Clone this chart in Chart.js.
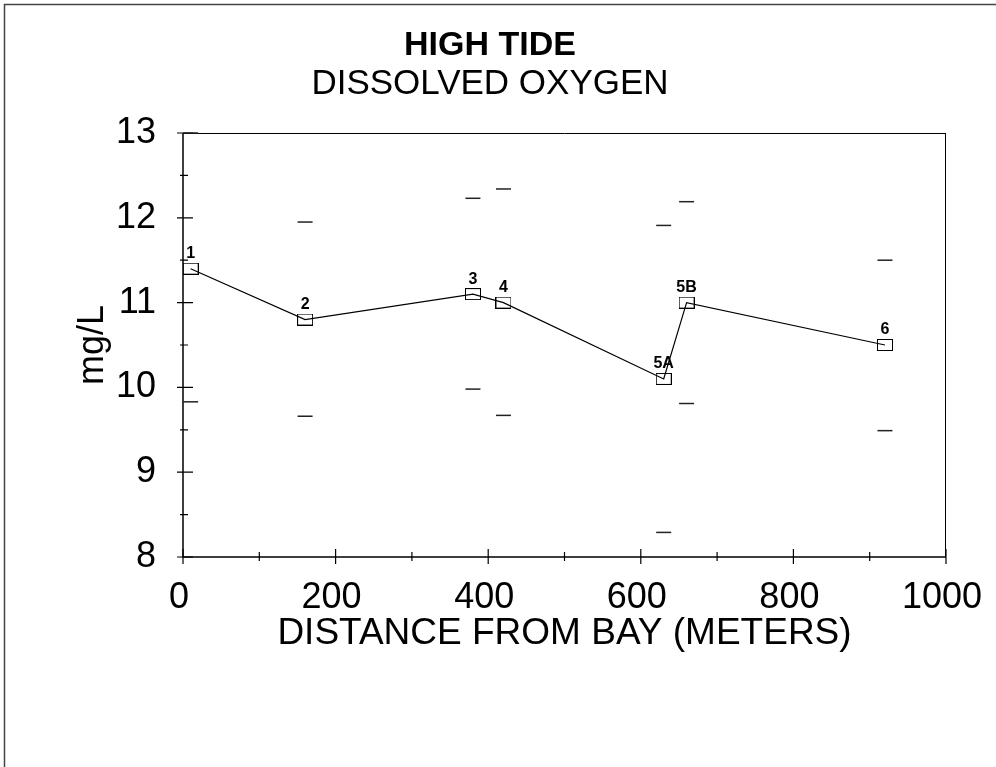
<!DOCTYPE html>
<html><head><meta charset="utf-8">
<script src="https://cdn.jsdelivr.net/npm/chart.js@4.4.1/dist/chart.umd.min.js"></script>
<style>html,body{margin:0;padding:0;background:#fff;} canvas{display:block;}</style>
</head><body>
<canvas id="c" width="996" height="767"></canvas>
<script>
// ---- data ----
const stations  = ['1', '2', '3', '4', '5A', '5B', '6'];
const distances = [10, 160, 380, 420, 630, 660, 920];
const meanDO    = [11.4, 10.8, 11.1, 11.0, 10.1, 11.0, 10.5];
const highDO    = [13.0, 11.95, 12.23, 12.34, 11.91, 12.19, 11.5];
const lowDO     = [9.83, 9.66, 9.98, 9.67, 8.29, 9.81, 9.49];
const xTickLabels = [0, 200, 400, 600, 800, 1000];
const yTickLabels = [8, 9, 10, 11, 12, 13];

const FONT = "'Liberation Sans', Arial, Helvetica, sans-serif";
Chart.defaults.color = '#000';
Chart.defaults.font.family = FONT;

function makeMarker() {
  const c = document.createElement('canvas');
  c.width = 16; c.height = 12;
  const g = c.getContext('2d');
  g.strokeStyle = '#000'; g.lineWidth = 1;
  g.strokeRect(0.5, 0.5, 15, 11);
  return c;
}
const marker = makeMarker();

const framePlugin = {
  id: 'frame',
  beforeDraw(chart) {
    const ctx = chart.ctx;
    ctx.save();
    ctx.strokeStyle = '#444';
    ctx.lineWidth = 1.5;
    ctx.beginPath();
    ctx.moveTo(4.5, 767); ctx.lineTo(4.5, 4.5); ctx.lineTo(996, 4.5);
    ctx.stroke();
    ctx.restore();
  }
};

const axesPlugin = {
  id: 'axesBox',
  beforeDatasetsDraw(chart) {
    const {ctx, chartArea: a, scales: {x, y}} = chart;
    ctx.save();
    ctx.strokeStyle = '#000';
    ctx.lineWidth = 1;
    ctx.beginPath();
    ctx.moveTo(a.left, a.top + 0.5); ctx.lineTo(a.right, a.top + 0.5);
    ctx.moveTo(a.right - 0.5, a.top); ctx.lineTo(a.right - 0.5, a.bottom);
    ctx.stroke();
    ctx.lineWidth = 1.5;
    ctx.beginPath();
    ctx.moveTo(a.left, a.top); ctx.lineTo(a.left, a.bottom); ctx.lineTo(a.right, a.bottom);
    ctx.stroke();
    ctx.lineWidth = 1.2;
    ctx.beginPath();
    x.ticks.forEach(t => {
      const px = x.getPixelForValue(t.value);
      const major = xTickLabels.includes(t.value);
      ctx.moveTo(px, a.bottom - (major ? 8 : 5));
      ctx.lineTo(px, a.bottom + (major ? 7 : 4));
    });
    y.ticks.forEach(t => {
      const py = y.getPixelForValue(t.value);
      const major = yTickLabels.includes(t.value);
      ctx.moveTo(a.left - (major ? 6 : 3), py);
      ctx.lineTo(a.left + (major ? 10 : 5), py);
    });
    ctx.stroke();
    ctx.restore();
  }
};

const labelPlugin = {
  id: 'stationLabels',
  afterDatasetsDraw(chart) {
    const ctx = chart.ctx;
    const meta = chart.getDatasetMeta(0);
    ctx.save();
    ctx.font = 'bold 16px ' + FONT;
    ctx.fillStyle = '#000';
    ctx.textAlign = 'center';
    ctx.textBaseline = 'middle';
    meta.data.forEach((el, i) => {
      ctx.fillText(stations[i], el.x, el.y - 15);
    });
    ctx.restore();
  }
};

const pts = (ys) => distances.map((d, i) => ({x: d, y: ys[i]}));

new Chart(document.getElementById('c'), {
  type: 'scatter',
  data: {
    datasets: [
      {
        data: pts(meanDO), showLine: true,
        borderColor: '#000', borderWidth: 1.2,
        pointStyle: marker, pointRadius: 7, clip: false
      },
      {
        data: pts(highDO), showLine: false,
        pointStyle: 'line', pointRadius: 7.5,
        borderColor: '#222', pointBorderColor: '#222', pointBorderWidth: 1.5, clip: false
      },
      {
        data: pts(lowDO), showLine: false,
        pointStyle: 'line', pointRadius: 7.5,
        borderColor: '#222', pointBorderColor: '#222', pointBorderWidth: 1.5, clip: false
      }
    ]
  },
  options: {
    responsive: false,
    animation: false,
    devicePixelRatio: 1,
    layout: {padding: {left: 34, right: 50, top: 0, bottom: 111}},
    plugins: {
      legend: {display: false},
      tooltip: {enabled: false},
      title: {
        display: true, text: 'HIGH TIDE', color: '#000',
        font: {family: FONT, size: 34, weight: 'bold', lineHeight: 1.0},
        padding: {top: 29, bottom: 0}
      },
      subtitle: {
        display: true, text: 'DISSOLVED OXYGEN', color: '#000',
        font: {family: FONT, size: 35, weight: 'normal', lineHeight: 1.2},
        padding: {top: 0.5, bottom: 27.5}
      }
    },
    scales: {
      x: {
        type: 'linear', min: 0, max: 1000,
        grid: {display: false, drawTicks: false},
        border: {display: false},
        ticks: {
          stepSize: 100, autoSkip: false, maxRotation: 0, minRotation: 0,
          padding: 19, labelOffset: -4,
          font: {family: FONT, size: 36}, color: '#000',
          callback: v => xTickLabels.includes(v) ? String(v) : ''
        },
        title: {
          display: true, text: 'DISTANCE FROM BAY (METERS)', color: '#000',
          font: {family: FONT, size: 37}, padding: 0
        },
        afterFit: s => { s.height = 99; s.paddingLeft = 0; s.paddingRight = 0; }
      },
      y: {
        type: 'linear', min: 8, max: 13,
        grid: {display: false, drawTicks: false},
        border: {display: false},
        ticks: {
          stepSize: 0.5, autoSkip: false, padding: 27,
          font: {family: FONT, size: 36}, color: '#000',
          callback: v => yTickLabels.includes(v) ? String(v) : ''
        },
        title: {
          display: true, text: 'mg/L', color: '#000',
          font: {family: FONT, size: 36}, padding: {top: 37, bottom: 0}
        },
        afterFit: s => { s.width = 149; s.paddingTop = 0; s.paddingBottom = 0; }
      }
    }
  },
  plugins: [framePlugin, axesPlugin, labelPlugin]
});
</script>
</body></html>
